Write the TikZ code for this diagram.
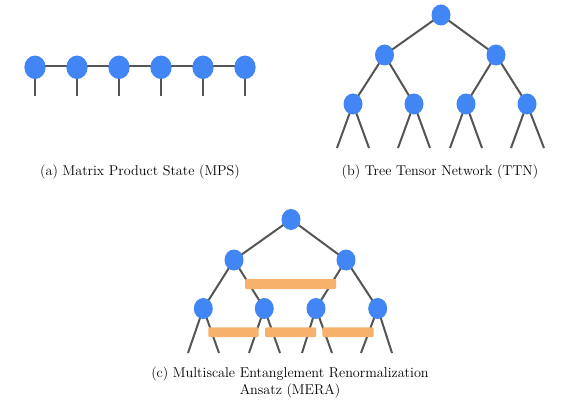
\documentclass[tikz,border=0pt]{standalone}
\usepackage{tikz}
\usetikzlibrary{shapes.geometric}
\definecolor{nodeblue}{HTML}{4285F4}
\definecolor{barorange}{HTML}{F6B26B}
\definecolor{linegray}{HTML}{555555}
\tikzset{
  tn/.style={ellipse,fill=nodeblue,draw=none,minimum width=21.3pt,minimum height=23.5pt,inner sep=0pt},
  tnb/.style={ellipse,fill=nodeblue,draw=none,minimum width=19pt,minimum height=21pt,inner sep=0pt},
  bond/.style={draw=linegray,line width=2pt},
  bar/.style={fill=barorange,draw=none,rounded corners=1pt},
  captext/.style={font=\fontsize{14.2}{17}\selectfont,align=center,inner sep=0pt}
}
\begin{document}
\begin{tikzpicture}[x=1pt,y=-1pt]
\useasboundingbox (0,0) rectangle (568,401);
% ---------- MPS ----------
\foreach \i/\x in {1/35,2/77,3/119,4/161,5/203,6/245}{
  \coordinate (m\i) at (\x,67.3);
  \coordinate (ml\i) at (\x,96.5);
}
\foreach \i in {1,...,6}{ \draw[bond] (m\i) -- (ml\i); }
\draw[bond] ([yshift=1.5pt]m1) -- ([yshift=1.5pt]m6);
\foreach \i in {1,...,6}{ \node[tn] (mn\i) at (m\i) {}; }
\node[captext] (capa) at (140,172) {(a) Matrix Product State (MPS)};
% ---------- TTN ----------
\coordinate (t0) at (441,15);
\coordinate (t1) at (384.5,55);
\coordinate (t2) at (496,55);
\coordinate (t11) at (353,104);
\coordinate (t12) at (414,104);
\coordinate (t21) at (466,104);
\coordinate (t22) at (527,104);
\coordinate (tl1) at (337,148); \coordinate (tl2) at (369,148);
\coordinate (tl3) at (398,148); \coordinate (tl4) at (430,148);
\coordinate (tl5) at (450,148); \coordinate (tl6) at (482,148);
\coordinate (tl7) at (511,148); \coordinate (tl8) at (544,148);
\draw[bond] (t1) -- (t0) -- (t2);
\draw[bond] (t11) -- (t1) -- (t12);
\draw[bond] (t21) -- (t2) -- (t22);
\draw[bond] (tl1) -- (t11) -- (tl2);
\draw[bond] (tl3) -- (t12) -- (tl4);
\draw[bond] (tl5) -- (t21) -- (tl6);
\draw[bond] (tl7) -- (t22) -- (tl8);
\foreach \n in {t0,t1,t2,t11,t12,t21,t22}{ \node[tnb] (\n n) at (\n) {}; }
\node[captext] (capb) at (440,172) {(b) Tree Tensor Network (TTN)};
% ---------- MERA ----------
\coordinate (r0) at (291,219.5);
\coordinate (r1) at (234,260);
\coordinate (r2) at (346,260);
\coordinate (r11) at (203.3,308.5);
\coordinate (r12) at (264.3,308.5);
\coordinate (r21) at (316,308.5);
\coordinate (r22) at (377.7,308.5);
\coordinate (rl1) at (188,353); \coordinate (rl2) at (219,353);
\coordinate (rl3) at (249,353); \coordinate (rl4) at (280,353);
\coordinate (rl5) at (302,353); \coordinate (rl6) at (332,353);
\coordinate (rl7) at (361,353); \coordinate (rl8) at (392,353);
\draw[bond] (r1) -- (r0) -- (r2);
\draw[bond] (r11) -- (r1) -- (r12);
\draw[bond] (r21) -- (r2) -- (r22);
\draw[bond] (rl1) -- (r11) -- (rl2);
\draw[bond] (rl3) -- (r12) -- (rl4);
\draw[bond] (rl5) -- (r21) -- (rl6);
\draw[bond] (rl7) -- (r22) -- (rl8);
\foreach \n in {r0,r1,r2,r11,r12,r21,r22}{ \node[tnb] (\n n) at (\n) {}; }
\fill[bar] (245,279) rectangle (336,289);
\fill[bar] (208.3,327.3) rectangle (258.7,337);
\fill[bar] (265,327.3) rectangle (316,337);
\fill[bar] (322.3,327.3) rectangle (373.7,337);
\node[captext] (capc) at (290,382) {(c) Multiscale Entanglement Renormalization\\Ansatz (MERA)};
\end{tikzpicture}
\end{document}
